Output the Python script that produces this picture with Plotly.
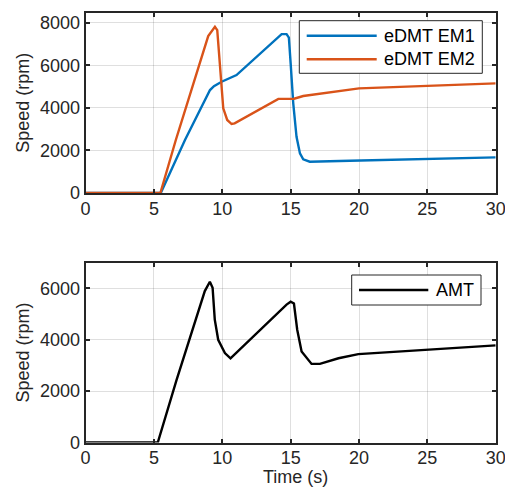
import plotly.graph_objects as go

# ---- data ----
em1_t = [0, 5.5, 7.27, 9.1, 9.39, 9.95, 11.04, 14.09, 14.34, 14.7, 14.87, 15.0, 15.19, 15.43, 15.68, 15.92, 16.4, 19.33, 30]
em1_v = [0, 0, 2490, 4835, 5020, 5225, 5540, 7340, 7465, 7465, 7300, 6090, 4210, 2640, 1860, 1580, 1470, 1515, 1675]

em2_t = [0, 5.47, 6.6, 8.97, 9.46, 9.63, 10.07, 10.36, 10.68, 10.9, 14.1, 15.25, 15.92, 16.4, 19.33, 20, 30]
em2_v = [0, 0, 2490, 7370, 7810, 7650, 3975, 3430, 3240, 3270, 4420, 4430, 4555, 4600, 4870, 4915, 5150]

amt_t = [0, 5.28, 6.65, 8.72, 9.09, 9.29, 9.45, 9.7, 10.19, 10.6, 14.7, 15.0, 15.24, 15.48, 15.8, 16.53, 17.14, 18.5, 19.95, 30]
amt_v = [0, 0, 2430, 5895, 6260, 6025, 4785, 4000, 3480, 3280, 5370, 5480, 5410, 4390, 3540, 3060, 3060, 3280, 3440, 3780]

x_ticks = [0, 5, 10, 15, 20, 25, 30]
y1_ticks = [0, 2000, 4000, 6000, 8000]
y2_ticks = [0, 2000, 4000, 6000]

names_top = ["eDMT EM1", "eDMT EM2"]
names_bot = ["AMT"]
x_title = "Time (s)"
y_title = "Speed (rpm)"

BLUE = "#0072BD"
ORANGE = "#D95319"
BLACK = "#000000"
AX = "#262626"
GRID = "rgba(38,38,38,0.15)"
FONT = "Liberation Sans, Arial, sans-serif"
FS = 18
LW = 2.4

fig = go.Figure()
fig.add_trace(go.Scatter(x=em1_t, y=em1_v, mode="lines", name=names_top[0],
                         line=dict(color=BLUE, width=LW), xaxis="x", yaxis="y"))
fig.add_trace(go.Scatter(x=em2_t, y=em2_v, mode="lines", name=names_top[1],
                         line=dict(color=ORANGE, width=LW), xaxis="x", yaxis="y"))
fig.add_trace(go.Scatter(x=amt_t, y=amt_v, mode="lines", name=names_bot[0],
                         line=dict(color=BLACK, width=LW), xaxis="x2", yaxis="y2"))

xd = [0.1695, 0.9816]
common_x = dict(range=[0, 30], tickvals=x_ticks, ticks="inside", ticklen=4, tickwidth=1.5,
                tickcolor=AX, showline=True, linecolor=AX, linewidth=2, mirror="ticks",
                showgrid=True, gridcolor=GRID, gridwidth=1, zeroline=False, automargin=False,
                ticklabeloverflow="allow", ticklabelstandoff=-2,
                tickfont=dict(family=FONT, size=FS, color=AX), domain=xd)
common_y = dict(ticks="inside", ticklen=4, tickwidth=1.5, tickcolor=AX, showline=True,
                linecolor=AX, linewidth=2, mirror="ticks", showgrid=True, gridcolor=GRID,
                gridwidth=1, zeroline=False, automargin=False, ticklabeloverflow="allow",
                tickfont=dict(family=FONT, size=FS, color=AX))

fig.update_layout(
    width=505, height=488, margin=dict(l=0, r=0, t=0, b=0),
    paper_bgcolor="white", plot_bgcolor="white", showlegend=False,
    font=dict(family=FONT, size=FS, color=AX),
    xaxis=dict(**common_x, anchor="y"),
    yaxis=dict(**common_y, range=[0, 8470], tickvals=y1_ticks, domain=[0.6045, 0.974], anchor="x",
               title=dict(text=y_title, standoff=6, font=dict(family=FONT, size=FS, color=AX))),
    xaxis2=dict(**common_x, anchor="y2"),
    yaxis2=dict(**common_y, range=[0, 7000], tickvals=y2_ticks, domain=[0.0932, 0.4617], anchor="x2",
                title=dict(text=y_title, standoff=6, font=dict(family=FONT, size=FS, color=AX))),
)

# ---- custom legends (MATLAB style boxes) and x title ----
W, H = 505.0, 488.0
def px(x):
    return x / W
def py(y):
    return 1 - y / H

shapes = []
annos = []
annos.append(dict(xref="paper", yref="paper", x=px(295.5), y=py(477), text=x_title, showarrow=False,
                  xanchor="center", yanchor="middle", borderpad=0,
                  font=dict(family=FONT, size=FS, color=AX)))
# top legend
shapes.append(dict(type="rect", xref="paper", yref="paper", x0=px(299.3), x1=px(482.3),
                   y0=py(73.3), y1=py(20.7), line=dict(color=AX, width=1), fillcolor="white", layer="above"))
for name, col, yy in [(names_top[0], BLUE, 35.7), (names_top[1], ORANGE, 59.3)]:
    shapes.append(dict(type="line", xref="paper", yref="paper", x0=px(306.7), x1=px(376.7),
                       y0=py(yy), y1=py(yy), line=dict(color=col, width=LW), layer="above"))
    annos.append(dict(xref="paper", yref="paper", x=px(381.7), y=py(yy), text=name, showarrow=False,
                      xanchor="left", yanchor="middle", font=dict(family=FONT, size=FS, color="#000")))
# bottom legend
shapes.append(dict(type="rect", xref="paper", yref="paper", x0=px(351.7), x1=px(481),
                   y0=py(305), y1=py(275), line=dict(color=AX, width=1), fillcolor="white", layer="above"))
shapes.append(dict(type="line", xref="paper", yref="paper", x0=px(359), x1=px(428.3),
                   y0=py(290), y1=py(290), line=dict(color=BLACK, width=LW), layer="above"))
annos.append(dict(xref="paper", yref="paper", x=px(434.3), y=py(290), text=names_bot[0], showarrow=False,
                  xanchor="left", yanchor="middle", font=dict(family=FONT, size=FS, color="#000")))

fig.update_layout(shapes=shapes, annotations=annos)
fig.write_html("out.html")
